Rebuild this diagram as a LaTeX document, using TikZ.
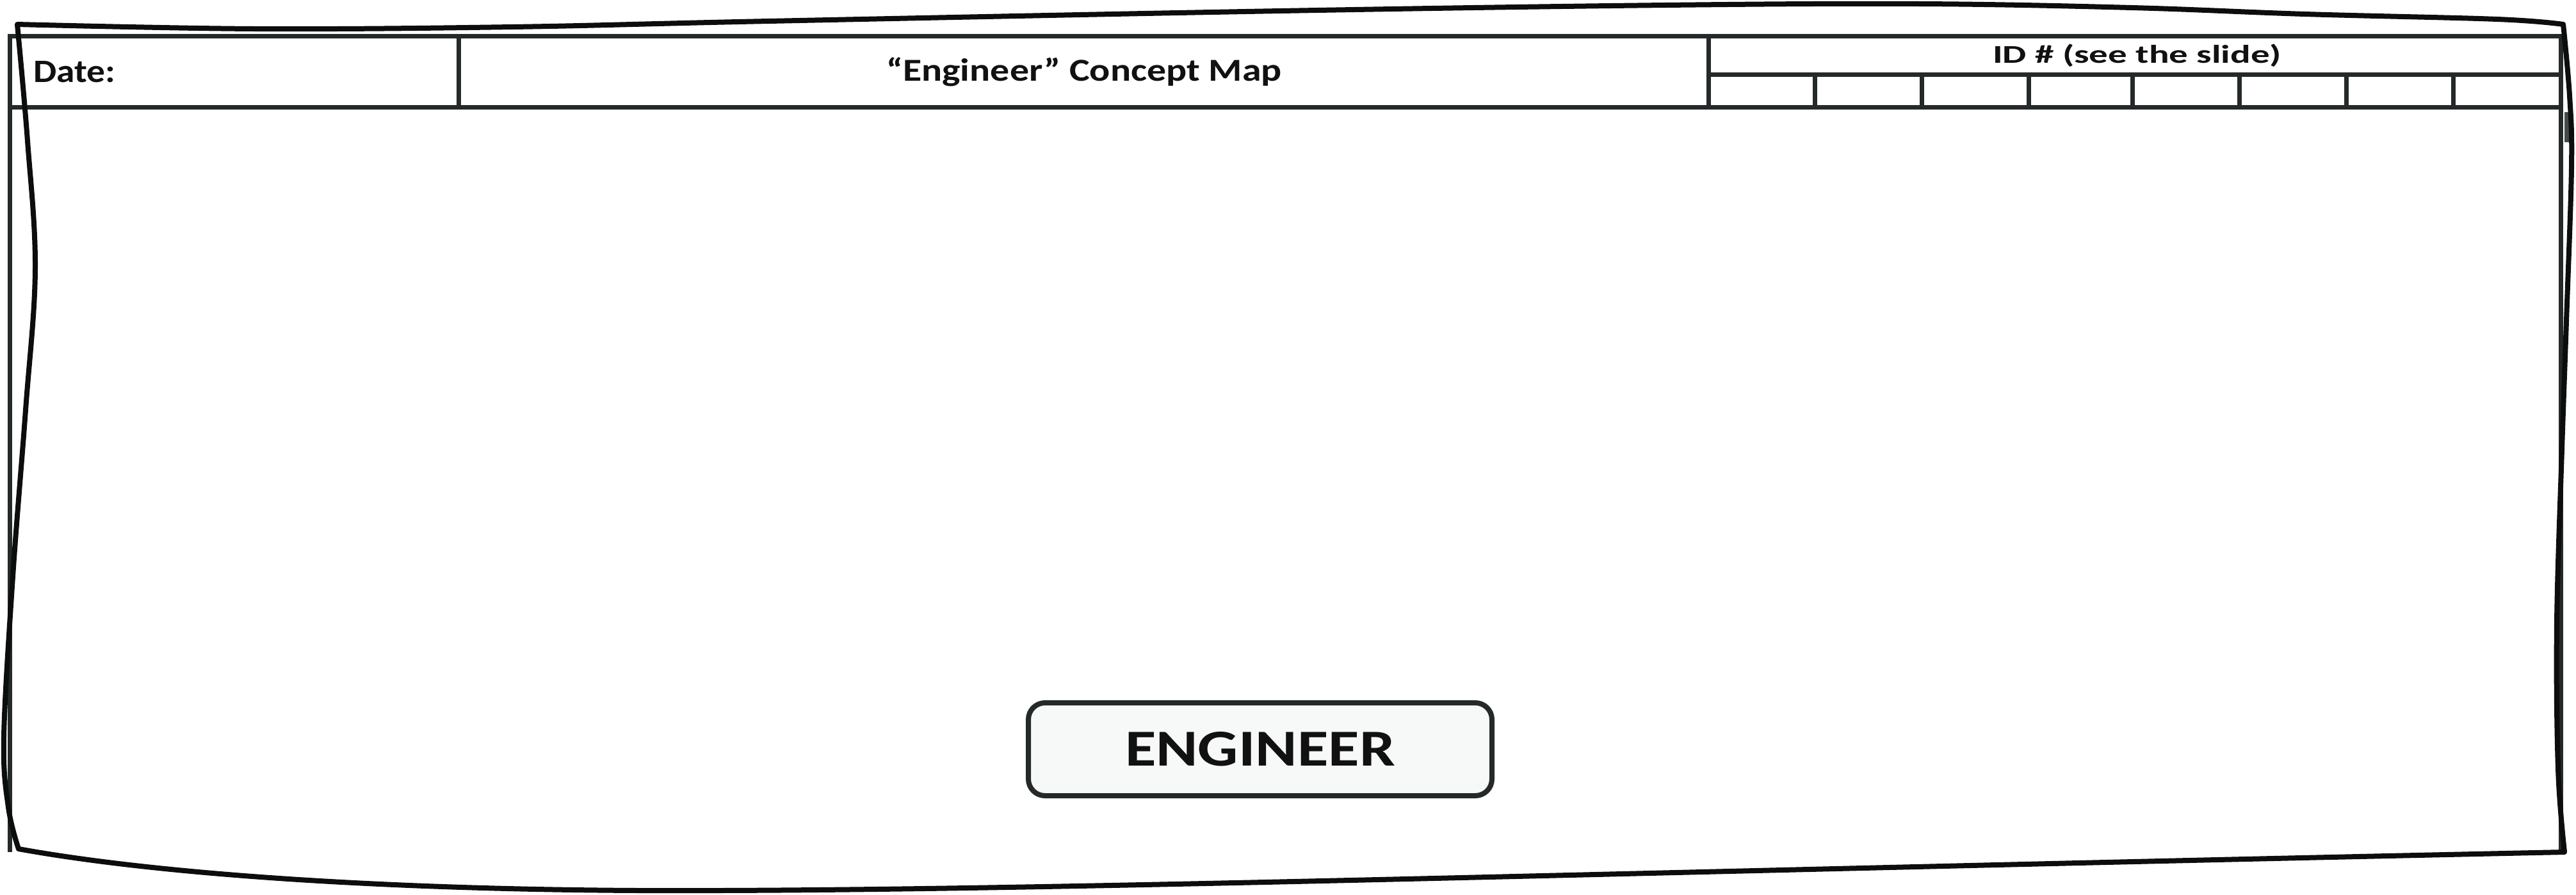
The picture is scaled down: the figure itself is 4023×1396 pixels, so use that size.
\documentclass[tikz,border=0pt]{standalone}
\usepackage{fontspec}
\setmainfont{Carlito}
\usepackage{graphicx}
\definecolor{tblc}{HTML}{242929}
\definecolor{skc}{HTML}{0C0D0D}
\definecolor{boxfill}{HTML}{F7F8F8}
\definecolor{txtc}{HTML}{111111}
\begin{document}
\begin{tikzpicture}[x=0.25pt,y=-0.25pt,
  tbl/.style={draw=tblc,line width=1.75pt},
  sketch/.style={draw=skc,line width=2pt,line join=round,line cap=round},
  txt/.style={inner sep=0pt,outer sep=0pt,text=txtc},
  conceptbox/.style={draw=tblc,line width=2pt,fill=boxfill,rounded corners=6.5pt,
    minimum width=181pt,minimum height=36.25pt,inner sep=0pt,text=txtc}]
\useasboundingbox (0,0) rectangle (4023,1396);
\fill[white] (0,0) rectangle (4023,1396);
% table frame
\draw[tbl,line join=miter] (15,1330) -- (15,56) -- (3999,56) -- (3999,1330);
\draw[tbl] (15,167) -- (3999,167);
\draw[tbl] (716,56) -- (716,167);
\draw[tbl] (2668,56) -- (2668,167);
\draw[tbl] (2668,116) -- (3999,116);
\foreach \xx in {2834,3001,3168,3330,3497,3664,3831}{
  \draw[tbl] (\xx,116) -- (\xx,167);
}
\fill[tblc!85!white] (4005,175) rectangle (4015,222);
% header texts
\node[txt,anchor=base west] (date) at (52,128)
  {\fontsize{12.75pt}{14pt}\selectfont\bfseries\resizebox{32pt}{\height}{Date:}};
\node[txt,anchor=base west] (title) at (1384,126)
  {\fontsize{12.5pt}{14pt}\selectfont\bfseries\resizebox{154.5pt}{\height}{“Engineer” Concept Map}};
\node[txt,anchor=base west] (idlabel) at (3112,98)
  {\fontsize{10pt}{12pt}\selectfont\bfseries\resizebox{112.75pt}{\height}{ID \# (see the slide)}};
% concept box
\node[conceptbox] (engineer) at (1968,1169.5)
  {\fontsize{20.25pt}{22pt}\selectfont\bfseries\resizebox{105.5pt}{\height}{ENGINEER}};
% hand-drawn frame
\draw[sketch] plot[smooth,tension=0.6] coordinates {(27,38) (400,45) (800,42) (1200,33) (2000,17) (2600,8) (3000,6) (3330,12) (3600,22) (3900,30) (4003,38)}
  -- plot[smooth,tension=0.6] coordinates {(4003,38) (4013,150) (4016,260) (4008,500) (4001,700) (3993,970) (3995,1200) (4005,1330)}
  .. controls (2500,1362) and (1600,1392) .. (1000,1390)
  .. controls (600,1388) and (250,1365) .. (29,1325)
  -- plot[smooth,tension=0.6] coordinates {(29,1325) (13,1260) (6,1150) (20,900) (40,640) (55,420) (43,220) (27,38)} -- cycle;
\end{tikzpicture}
\end{document}
